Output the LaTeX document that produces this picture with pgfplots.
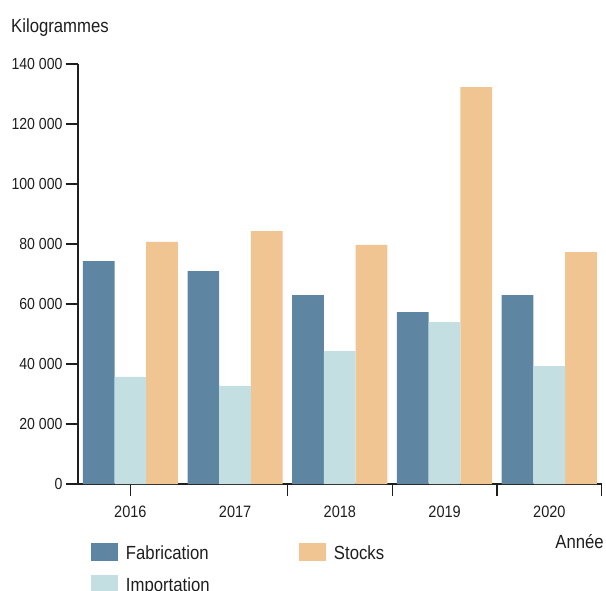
\documentclass[border=0pt]{standalone}
\usepackage{fontspec}
\setmainfont{Liberation Sans}[FakeStretch=0.88]
\usepackage{pgfplots}
\pgfplotsset{compat=1.18}
\definecolor{fab}{HTML}{5E86A3}
\definecolor{imp}{HTML}{C4DFE2}
\definecolor{sto}{HTML}{F1C592}
\definecolor{txt}{HTML}{1E1E1E}
\newcommand{\ytickfont}{\fontsize{16}{18}\selectfont}
\newcommand{\xtickfont}{\fontsize{16.5}{18}\selectfont}
\newcommand{\bigfont}{\fontsize{19}{22}\selectfont}
\begin{document}
\begin{tikzpicture}
\begin{axis}[
  at={(0,0)}, anchor=south west,
  scale only axis, width=523.7pt, height=420pt,
  xmin=-0.5, xmax=4.5, ymin=0, ymax=140000,
  axis lines=left, axis line style={-, line width=1.3pt, txt},
  tick align=outside,
  tick style={line width=1.3pt, txt},
  major tick length=12pt,
  ybar, bar width=0.303,
  xtick={0,1.5,2.5,3.5,4.5}, xticklabels={},
  extra x ticks={0,1,2,3,4}, extra x tick labels={2016,2017,2018,2019,2020},
  extra x tick style={major tick length=0pt},
  x tick label style={font=\xtickfont, text=txt, anchor=base, yshift=-33pt},
  scaled y ticks=false,
  ytick={0,20000,40000,60000,80000,100000,120000,140000},
  yticklabels={0,20~000,40~000,60~000,80~000,100~000,120~000,140~000},
  y tick label style={font=\ytickfont, text=txt},
  /pgf/number format/assume math mode=true,
  legend columns=2,
  legend style={at={(0.0248,-0.1405)}, anchor=north west, draw=none, fill=none,
    inner sep=0pt, outer sep=0pt, row sep=14pt,
    nodes={inner sep=0pt, font=\bigfont, text=txt, text height=16pt, text depth=1.5pt, text width=140pt, align=left},
    /tikz/every odd column/.append style={column sep=8pt},
    /tikz/every even column/.append style={column sep=33pt}},
  legend cell align=left,
  legend image code/.code={\fill[#1] (0pt,-9pt) rectangle (27pt,9pt);},
]
\addplot[fill=fab, draw=none, bar shift=-0.303] coordinates {(0,74300) (1,71000) (2,63000) (3,57300) (4,63000)};
\addlegendentry{Fabrication}
\addplot[fill=sto, draw=none, bar shift=0.303] coordinates {(0,80700) (1,84300) (2,79700) (3,132300) (4,77300)};
\addlegendentry{Stocks}
\addplot[fill=imp, draw=none, bar shift=0] coordinates {(0,35700) (1,32700) (2,44300) (3,54000) (4,39300)};
\addlegendentry{Importation}
\end{axis}
\node[anchor=base west, inner sep=0pt, font=\bigfont, text=txt] at (-67pt,451pt) {Kilogrammes};
\node[anchor=base east, inner sep=0pt, font=\bigfont, text=txt] at (526pt,-64pt) {Année};
\pgfresetboundingbox
\path[use as bounding box] (-78pt,-106pt) rectangle (528pt,484pt);
\end{tikzpicture}
\end{document}
